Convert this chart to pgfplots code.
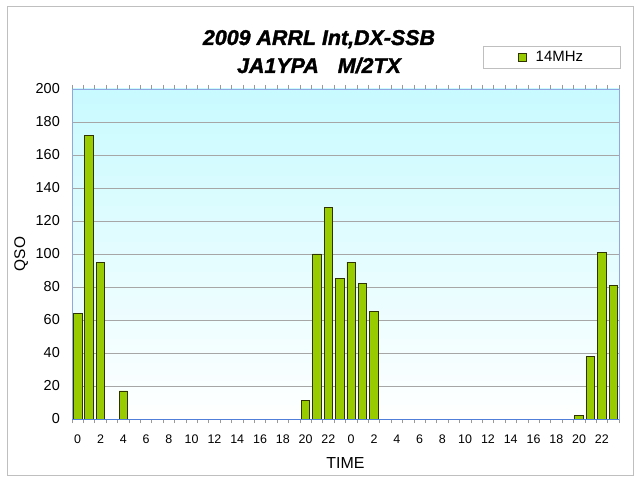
\documentclass[border=0pt]{standalone}
\usepackage{pgfplots}
\pgfplotsset{compat=1.18}
\usepackage{fontspec}
\setmainfont{Liberation Sans}
\newfontfamily\titlefont{Liberation Sans}[BoldItalicFeatures={FakeBold=1.6}]
\definecolor{barfill}{HTML}{99CC00}
\definecolor{barline}{HTML}{2E3300}
\definecolor{bgtop}{HTML}{C8FAFF}
\definecolor{frameblue}{HTML}{8FA8E0}
\definecolor{zeroblue}{HTML}{4F7FD8}
\definecolor{gridgray}{HTML}{A6A6A6}
\definecolor{outerframe}{HTML}{BFBFBF}
\begin{document}
\begin{tikzpicture}
\useasboundingbox (0,0) rectangle (640bp,480bp);
\fill[white] (0,0) rectangle (640bp,480bp);
\draw[outerframe, line width=1bp] (7bp,4bp) rectangle (633bp,473bp);
\node[anchor=base, inner sep=0pt, font=\titlefont\fontsize{21.5}{24}\selectfont\bfseries\itshape] at (319bp,435bp) {2009 ARRL Int,DX-SSB};
\node[anchor=base, inner sep=0pt, font=\titlefont\fontsize{21.5}{24}\selectfont\bfseries\itshape] at (319bp,407bp) {JA1YPA\hspace{19bp}M/2TX};
\begin{axis}[
  at={(72bp,61bp)}, anchor=south west,
  width=547bp, height=330bp, scale only axis,
  xmin=-0.5, xmax=47.5, ymin=0, ymax=200,
  ytick={0,20,...,200},
  ymajorgrids,
  major grid style={gridgray, line width=0.6bp},
  extra y ticks={0}, extra y tick labels={},
  extra y tick style={grid=major, major grid style={zeroblue, line width=1bp}},
  ytick style={draw=none},
  xtick={-0.5,0.5,...,47.5},
  xticklabels={},
  tick align=inside,
  xtick style={draw=gray!80, line width=0.6bp},
  major tick length=4bp,
  extra x ticks={0,2,...,46},
  extra x tick labels={0,2,4,6,8,10,12,14,16,18,20,22,0,2,4,6,8,10,12,14,16,18,20,22},
  extra x tick style={major tick length=0pt},
  axis line style={frameblue, line width=0.8bp},
  axis background/.style={shade, top color=bgtop, bottom color=white},
  /pgf/number format/assume math mode=true,
  yticklabel style={font=\fontsize{14.5}{17}\selectfont, inner sep=0pt, xshift=-12bp},
  xticklabel style={font=\fontsize{12.5}{15}\selectfont, inner sep=0pt, yshift=-16bp},
  every axis x label/.style={at={(rel axis cs:0.5,-0.132)}, anchor=center, font=\fontsize{16}{19}\selectfont},
  every axis y label/.style={at={(rel axis cs:-0.093,0.5)}, anchor=center, rotate=90, font=\fontsize{15.5}{18}\selectfont},
  xlabel={TIME}, ylabel={QSO},
  ybar, bar width=0.74,
  legend style={at={(0.8766,1.0955)}, anchor=center, draw=outerframe, line width=0.8bp, fill=white,
    font=\fontsize{15}{18}\selectfont, inner xsep=35bp, inner ysep=3.5bp,
    nodes={inner sep=2bp}},
  legend image code/.code={\draw[#1] (0bp,-4bp) rectangle (8bp,4bp);},
  legend cell align=left,
]
\addplot[fill=barfill, draw=barline, line width=0.8bp] coordinates {
(0,64) (1,172) (2,95) (4,17) (20,11) (21,100) (22,128) (23,85)
(24,95) (25,82) (26,65) (44,2) (45,38) (46,101) (47,81)};
\addlegendentry{\hspace{7bp}14MHz}
\end{axis}
\end{tikzpicture}
\end{document}
